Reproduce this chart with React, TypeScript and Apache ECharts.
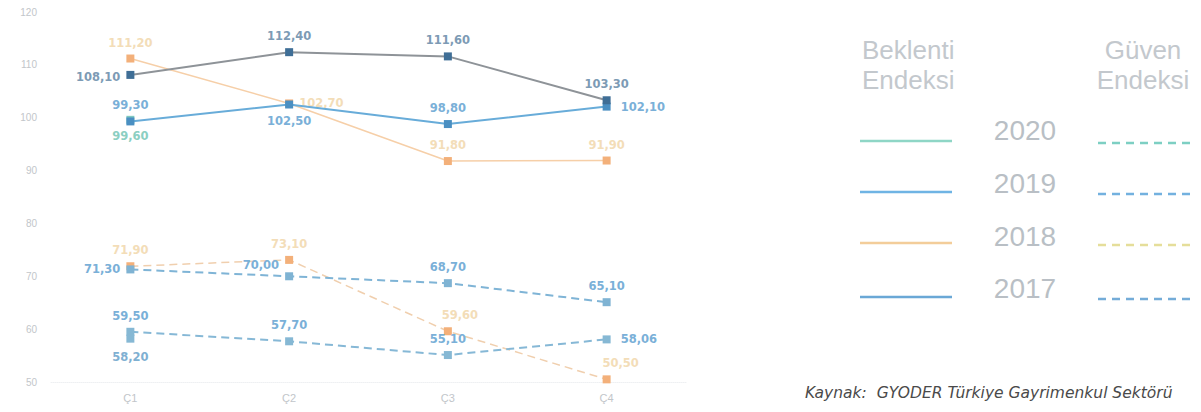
import React, { useEffect, useRef } from "react";
import * as echarts from "echarts";

const quarters = ["Ç1", "Ç2", "Ç3", "Ç4"];
const years = ["2020", "2019", "2018", "2017"];

// Beklenti Endeksi (solid)
const beklenti2020 = [99.6, null, null, null];
const beklenti2019 = [99.3, 102.5, 98.8, 102.1];
const beklenti2018 = [111.2, 102.7, 91.8, 91.9];
const beklenti2017 = [108.1, 112.4, 111.6, 103.3];

// Güven Endeksi (dashed)
const guven2020 = [58.2, null, null, null];
const guven2019 = [71.3, 70.0, 68.7, 65.1];
const guven2018 = [71.9, 73.1, 59.6, 50.5];
const guven2017 = [59.5, 57.7, 55.1, 58.06];

const yTicks = { min: 50, max: 120, interval: 10 };

const fmt = (v: number) => v.toFixed(2).replace(".", ",");

type LabelCfg = { pos: string; offset?: number[] };

function buildData(values: (number | null)[], labels: LabelCfg[]) {
  return values.map((v, i) => {
    if (v === null) return null;
    const l = labels[i] || { pos: "top" };
    return {
      value: v,
      label: { position: l.pos, offset: l.offset || [0, 0] },
    };
  });
}

function makeSeries(
  name: string,
  values: (number | null)[],
  labels: LabelCfg[],
  lineColor: string,
  markerColor: string,
  labelColor: string,
  dashed: boolean,
  width: number,
  z: number
) {
  return {
    name,
    type: "line",
    data: buildData(values, labels),
    symbol: "rect",
    symbolSize: 8,
    connectNulls: false,
    z,
    lineStyle: {
      color: lineColor,
      width,
      type: dashed ? [8, 5] : "solid",
    },
    itemStyle: { color: markerColor },
    label: {
      show: true,
      formatter: (p: any) => fmt(p.value),
      color: labelColor,
      fontFamily: "DejaVu Sans",
      fontWeight: "bold",
      fontSize: 11.5,
      distance: 6,
    },
  };
}

export default function App() {
  const ref = useRef<HTMLDivElement>(null);

  useEffect(() => {
    document.body.style.margin = "0";
    if (!ref.current) return;
    const chart = echarts.init(ref.current, undefined, { renderer: "svg" });

    const legendYears = [
      { y: 130, lineY: 141, solid: "#8fd6c6", dash: "#7dcfc3" },
      { y: 183, lineY: 192, solid: "#6fb4e4", dash: "#73b1df" },
      { y: 236, lineY: 243, solid: "#f3cd9a", dash: "#e5de9a" },
      { y: 288, lineY: 297, solid: "#6aa8d6", dash: "#74acd8" },
    ];

    const graphics: any[] = [
      {
        type: "text",
        left: 862,
        top: 35,
        style: {
          text: "Beklenti\nEndeksi",
          fill: "#c3c8cd",
          font: "26px 'Liberation Sans', Arial, sans-serif",
          lineHeight: 30,
        },
      },
      {
        type: "text",
        x: 1143,
        y: 35,
        style: {
          text: "Güven\nEndeksi",
          fill: "#c3c8cd",
          font: "26px 'Liberation Sans', Arial, sans-serif",
          lineHeight: 30,
          align: "center",
        },
      },
      {
        type: "text",
        left: 805,
        top: 385,
        style: {
          text: "Kaynak:  GYODER Türkiye Gayrimenkul Sektörü",
          fill: "#4a4a4a",
          font: "italic 15.5px 'DejaVu Sans', sans-serif",
        },
      },
    ];
    legendYears.forEach((ly, i) => {
      graphics.push({
        type: "text",
        x: 1025,
        y: ly.y,
        style: {
          text: years[i],
          fill: "#b9bfc5",
          font: "28px 'Liberation Sans', Arial, sans-serif",
          align: "center",
          verticalAlign: "middle",
        },
      });
      graphics.push({
        type: "line",
        shape: { x1: 860, y1: ly.lineY, x2: 952, y2: ly.lineY },
        style: { stroke: ly.solid, lineWidth: 2.5 },
      });
      graphics.push({
        type: "line",
        shape: { x1: 1098, y1: ly.lineY + 2, x2: 1190, y2: ly.lineY + 2 },
        style: { stroke: ly.dash, lineWidth: 2.5, lineDash: [8, 6] },
      });
    });

    const blueLabel = "#7ab0d8";

    chart.setOption({
      animation: false,
      backgroundColor: "#ffffff",
      grid: { left: 51, right: 515, top: 12, bottom: 30 },
      xAxis: {
        type: "category",
        data: quarters,
        boundaryGap: true,
        axisLine: { show: true, lineStyle: { color: "#eef0f2", type: "dotted" } },
        axisTick: { show: false },
        axisLabel: {
          color: "#c2c6ca",
          fontSize: 11,
          fontFamily: "Liberation Sans",
          margin: 10,
        },
      },
      yAxis: {
        type: "value",
        min: yTicks.min,
        max: yTicks.max,
        interval: yTicks.interval,
        axisLine: { show: false },
        axisTick: { show: false },
        splitLine: { show: false },
        axisLabel: {
          color: "#c2c6ca",
          fontSize: 10,
          fontFamily: "Liberation Sans",
          margin: 14,
        },
      },
      graphic: graphics,
      series: [
        makeSeries(
          "Güven 2018",
          guven2018,
          [
            { pos: "top" },
            { pos: "top" },
            { pos: "top", offset: [12, 0] },
            { pos: "top", offset: [14, 0] },
          ],
          "#f0cfae",
          "#f3b07a",
          "#f3ddb8",
          true,
          1.5,
          2
        ),
        makeSeries(
          "Beklenti 2018",
          beklenti2018,
          [{ pos: "top" }, { pos: "right" }, { pos: "top" }, { pos: "top" }],
          "#f6cfa8",
          "#f3b07a",
          "#f3ddb8",
          false,
          1.5,
          2
        ),
        makeSeries(
          "Beklenti 2020",
          beklenti2020,
          [{ pos: "bottom", offset: [0, 0] }],
          "#8fd6c6",
          "#7fc9c0",
          "#8ccfc2",
          false,
          2,
          3
        ),
        makeSeries(
          "Beklenti 2019",
          beklenti2019,
          [{ pos: "top" }, { pos: "bottom" }, { pos: "top" }, { pos: "right", offset: [4, 0] }],
          "#68acd9",
          "#4a8fc2",
          blueLabel,
          false,
          2,
          4
        ),
        makeSeries(
          "Beklenti 2017",
          beklenti2017,
          [{ pos: "left", offset: [0, 2] }, { pos: "top" }, { pos: "top" }, { pos: "top" }],
          "#8e9398",
          "#3f6e96",
          "#7d9bb5",
          false,
          2,
          5
        ),
        makeSeries(
          "Güven 2020",
          guven2020,
          [{ pos: "bottom", offset: [0, 2] }],
          "#7dcfc3",
          "#86b8d4",
          "#7fb0d2",
          true,
          2,
          3
        ),
        makeSeries(
          "Güven 2019",
          guven2019,
          [
            { pos: "left" },
            { pos: "left", offset: [0, -11] },
            { pos: "top" },
            { pos: "top" },
          ],
          "#7fb4d6",
          "#7fb3d3",
          blueLabel,
          true,
          2,
          4
        ),
        makeSeries(
          "Güven 2017",
          guven2017,
          [{ pos: "top" }, { pos: "top" }, { pos: "top" }, { pos: "right", offset: [4, 0] }],
          "#86b8d6",
          "#86b8d4",
          blueLabel,
          true,
          2,
          4
        ),
      ],
    });

    return () => chart.dispose();
  }, []);

  return <div ref={ref} style={{ width: 1201, height: 412 }} />;
}
